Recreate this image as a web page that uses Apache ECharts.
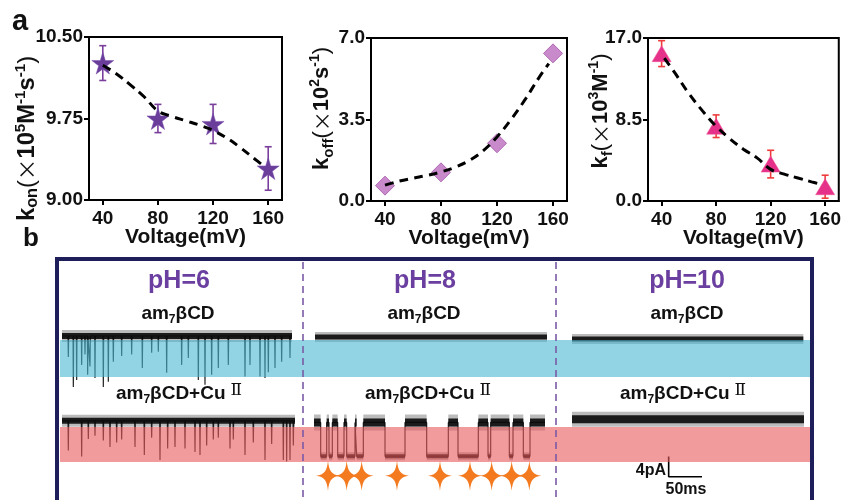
<!DOCTYPE html>
<html><head><meta charset="utf-8">
<script src="https://cdn.jsdelivr.net/npm/echarts@6/dist/echarts.min.js"></script>
<style>html,body{margin:0;padding:0;background:#fff}#c{width:844px;height:500px}</style>
</head><body><div id="c"></div><script>
// ---------- Panel a data ----------
const voltages = [40, 80, 120, 160];
const konVals = [10.26, 9.75, 9.70, 9.29];
const konErr = [0.16, 0.13, 0.18, 0.20];
const konFitX = [40, 50, 60, 70, 80, 90, 100, 110, 120, 130, 140, 150, 157];
const konFitY = [10.24, 10.16, 10.06, 9.95, 9.82, 9.77, 9.73, 9.69, 9.64, 9.57, 9.48, 9.38, 9.31];
const koffVals = [0.66, 1.23, 2.48, 6.34];
const koffErr = [0.12, 0.10, 0.12, 0.10];
const koffFitX = [40, 50, 60, 70, 80, 90, 100, 110, 120, 130, 140, 150, 157];
const koffFitY = [0.68, 0.85, 0.98, 1.10, 1.25, 1.45, 1.73, 2.15, 2.75, 3.50, 4.35, 5.30, 5.90];
const kfVals = [15.37, 7.80, 3.85, 1.49];
const kfErr = [1.35, 1.18, 1.44, 1.20];
const kfFitX = [42, 50, 60, 70, 80, 90, 100, 110, 120, 130, 140, 150, 158];
const kfFitY = [14.9, 13.3, 11.2, 9.4, 7.8, 6.5, 5.4, 4.5, 3.3, 2.8, 2.4, 2.0, 1.7];
const yTicksKon = [9.00, 10.50, 0.75];
const yTicksKoff = [0, 7, 3.5];
const yTicksKf = [0, 17, 8.5];

// ---------- Panel b data (time in ms, current in pA) ----------
const pH6BlankSpikes = [[9.5,4.0],[17,9.7],[22,8.4],[29.5,5.5],[34.5,3.5],[38.5,7.4],[42,5.8],[49.5,8.0],[62,9.7],[69.5,8.7],[77,4.9],[89.5,3.8],[104.5,3.5],[120.5,6.1],[134.5,3.2],[144.5,3.0],[157,7.0],[179.5,5.5],[189.5,4.2],[204.5,8.4],[214.5,9.3],[224.5,7.4],[234.5,6.1],[249.5,5.5],[274.5,7.7],[282,5.5],[297,7.7],[304.5,8.0],[309.5,6.9],[319.5,6.1],[329.5,4.9],[342,4.2]];
const pH6BlankEnd = 345;
const pH6CuSpikes = [[9.5,6.0],[29.5,7.2],[39.5,3.7],[49.5,3.0],[62,4.0],[72,5.3],[82,4.4],[89.5,3.8],[109.5,5.3],[123.5,6.9],[134.5,3.4],[147,7.9],[158.5,5.6],[169.5,5.3],[184.5,5.6],[199.5,6.3],[207,6.9],[217,5.0],[227,3.8],[234.5,3.4],[252,5.6],[257,3.8],[274.5,6.9],[287,4.4],[304.5,7.9],[314.5,4.7],[332,7.9],[337,8.2],[342,7.9],[347,5.0]];
const pH6CuEnd = 349.5;
const pH8BlankEnd = 348;
const pH8CuSwitchTimes = [0,10,19,22.5,27.5,35.5,45,49,61.5,64,74,106.5,136.5,169,201.5,216,246.5,261,265,293,298.5,314,324];
const pH8CuStates =      [1, 0, 1, 0,   1,   0,   1, 0, 1,   0, 1, 0,    1,    0,  1,    0,  1,    0,  1,  0,  1,    0,  1];
const pH8CuEnd = 346.5;
const blockedLevel = -7.0;
const starTimes = [21, 49, 71.5, 124.5, 189, 234, 266.5, 296.5, 323];
const pH10BlankEnd = 347;
const pH10CuEnd = 348;
const scaleBarTime = [145, 195];
const scaleBarCurrent = [-7.4, -11.4];

const FF = 'Arial, "Liberation Sans", Helvetica, sans-serif';
const CJK = '"Noto Sans CJK SC", "DejaVu Sans", sans-serif';
const chart = echarts.init(document.getElementById('c'));

// ---------- helpers ----------
function errBars(gi, vals, errs, color) {
  return {
    type: 'custom', xAxisIndex: gi, yAxisIndex: gi, z: 2, silent: true,
    data: voltages.map((v, i) => [v, vals[i] - errs[i], vals[i] + errs[i]]),
    renderItem: (p, api) => {
      const x = api.value(0);
      const lo = api.coord([x, api.value(1)]);
      const hi = api.coord([x, api.value(2)]);
      const s = {stroke: color, lineWidth: 1.6};
      return {type: 'group', children: [
        {type: 'line', shape: {x1: lo[0], y1: lo[1], x2: hi[0], y2: hi[1]}, style: s},
        {type: 'line', shape: {x1: lo[0]-3.5, y1: lo[1], x2: lo[0]+3.5, y2: lo[1]}, style: s},
        {type: 'line', shape: {x1: hi[0]-3.5, y1: hi[1], x2: hi[0]+3.5, y2: hi[1]}, style: s}
      ]};
    }
  };
}
function fitLine(gi, xs, ys) {
  return {type: 'line', xAxisIndex: gi, yAxisIndex: gi, z: 5, smooth: 0.4, symbol: 'none', silent: true,
    data: xs.map((x, i) => [x, ys[i]]),
    lineStyle: {color: '#000', width: 3, type: [9, 6]}};
}
function nameRich(s) {
  return {
    k: {fontSize: 22 * s, fontWeight: 'bold', fontFamily: FF, color: '#111', lineHeight: 28, verticalAlign: 'middle'},
    sub: {fontSize: 15 * s, fontWeight: 'bold', fontFamily: FF, color: '#111', lineHeight: 14, verticalAlign: 'bottom'},
    sup: {fontSize: 14 * s, fontWeight: 'bold', fontFamily: FF, color: '#111', lineHeight: 14, verticalAlign: 'top'},
    p: {fontSize: 22 * s, fontWeight: 'normal', fontFamily: FF, color: '#111', lineHeight: 28, verticalAlign: 'middle'},
    x: {fontSize: 20 * s, fontWeight: 'normal', fontFamily: CJK, color: '#111', lineHeight: 28, verticalAlign: 'middle'}
  };
}
function topX(gi) {
  return {gridIndex: gi, type: 'value', min: 30, max: 170,
    axisLine: {show: true, onZero: false, lineStyle: {color: '#000', width: 2}},
    axisTick: {show: true, customValues: voltages, length: 5, lineStyle: {color: '#000', width: 2}},
    axisLabel: {customValues: voltages, margin: 9, fontSize: 19, fontWeight: 'bold', color: '#111', fontFamily: FF},
    splitLine: {show: false},
    name: 'Voltage(mV)', nameLocation: 'middle', nameGap: 27, nameMoveOverlap: false,
    nameTextStyle: {fontSize: 21, fontWeight: 'bold', color: '#111', fontFamily: FF}};
}
function topY(gi, t, dec, name, gap, pad, s) {
  return {gridIndex: gi, type: 'value', min: t[0], max: t[1], interval: t[2],
    axisLine: {show: true, onZero: false, lineStyle: {color: '#000', width: 2}},
    axisTick: {show: true, length: 5, lineStyle: {color: '#000', width: 2}},
    axisLabel: {formatter: v => v.toFixed(dec), margin: 6, fontSize: 19, fontWeight: 'bold', color: '#111', fontFamily: FF},
    splitLine: {show: false},
    name: name, nameLocation: 'middle', nameRotate: 90, nameGap: gap, nameMoveOverlap: false,
    nameTextStyle: {rich: nameRich(s), padding: pad}};
}
function hidX(gi) { return {gridIndex: gi, type: 'value', min: 0, max: 360, show: false}; }
function hidY(gi) { return {gridIndex: gi, type: 'value', min: -16, max: 4, show: false}; }
function noise(gi, data, w) {
  return [
    {type: 'line', xAxisIndex: gi, yAxisIndex: gi, symbol: 'none', silent: true, z: 1, data: data,
      lineStyle: {color: 'rgba(30,30,30,0.3)', width: w, cap: 'butt'}},
    {type: 'line', xAxisIndex: gi, yAxisIndex: gi, symbol: 'none', silent: true, z: 2, data: data,
      lineStyle: {color: 'rgba(10,10,10,0.9)', width: Math.round(w * 0.5), cap: 'butt'}}
  ];
}
function thin(gi, data) {
  return {type: 'line', xAxisIndex: gi, yAxisIndex: gi, symbol: 'none', silent: true, z: 3, data: data,
    lineStyle: {color: 'rgba(10,10,10,0.9)', width: 1.2}};
}
function spikeData(spikes, end) {
  const pts = [[0, 0]];
  spikes.forEach(([t, d]) => { pts.push([t - 0.45, 0], [t, -d], [t + 0.45, 0]); });
  pts.push([end, 0]);
  return pts;
}
// pH8 + Cu step trace
const stepPath = [], highSegs = [], lowSegs = [];
pH8CuSwitchTimes.forEach((t0, i) => {
  const t1 = i + 1 < pH8CuSwitchTimes.length ? pH8CuSwitchTimes[i + 1] : pH8CuEnd;
  const lv = pH8CuStates[i] ? 0 : blockedLevel;
  stepPath.push([t0, lv], [t1, lv]);
  (pH8CuStates[i] ? highSegs : lowSegs).push([t0, lv], [t1, lv], [t1, '-']);
});

// grids for traces: [left, top(0 pA at top+21)]
const traceGrids = [[62, 315], [62, 401], [315, 316], [314, 403], [572, 318], [572, 399]];

const grids = [
  {left: 89, top: 37, width: 193, height: 163, show: true, borderColor: '#000', borderWidth: 2},
  {left: 371, top: 38, width: 196, height: 163, show: true, borderColor: '#000', borderWidth: 2},
  {left: 648, top: 38, width: 194, height: 163, show: true, borderColor: '#000', borderWidth: 2}
].concat(traceGrids.map(g => ({left: g[0], top: g[1], width: 240, height: 105})));

const xAxes = [topX(0), topX(1), topX(2)].concat([3,4,5,6,7,8].map(hidX));
const yAxes = [
  topY(0, yTicksKon, 2, '{k|k}{sub|on}{p|(}{x|×}{k|10}{sup|5}{k|M}{sup|-1}{k|s}{sup|-1}{p|)}', 48, [0, 40, 0, 0], 1.08),
  topY(1, yTicksKoff, 1, '{k|k}{sub|off}{p|(}{x|×}{k|10}{sup|2}{k|s}{sup|-1}{p|)}', 35, [0, 0, 0, 22], 1),
  topY(2, yTicksKf, 1, '{k|k}{sub|f}{p|(}{x|×}{k|10}{sup|3}{k|M}{sup|-1}{p|)}', 33, [0, 0, 0, 17], 1)
].concat([3,4,5,6,7,8].map(hidY));

const starPath = 'path://M50,0 L61,35 L98,35 L68,57 L79,91 L50,70 L21,91 L32,57 L2,35 L39,35 Z';
const sparkPath = 'path://M0,-14 C1,-4 3,-1 10,0 C3,1 1,4 0,14 C-1,4 -3,1 -10,0 C-3,-1 -1,-4 0,-14 Z';

const series = [
  errBars(0, konVals, konErr, '#7a3f9d'),
  {type: 'scatter', xAxisIndex: 0, yAxisIndex: 0, z: 4, symbol: starPath, symbolSize: 22,
    itemStyle: {color: '#6a3d9a', borderColor: '#7b4fb0', borderWidth: 0.5, opacity: 1},
    data: voltages.map((v, i) => [v, konVals[i]])},
  fitLine(0, konFitX, konFitY),
  errBars(1, koffVals, koffErr, '#a060a8'),
  {type: 'scatter', xAxisIndex: 1, yAxisIndex: 1, z: 4, symbol: 'diamond', symbolSize: [19, 19],
    itemStyle: {color: '#c98acb', borderColor: '#b06ab4', borderWidth: 1, opacity: 1},
    data: voltages.map((v, i) => [v, koffVals[i]])},
  fitLine(1, koffFitX, koffFitY),
  errBars(2, kfVals, kfErr, '#ee3b3b'),
  {type: 'scatter', xAxisIndex: 2, yAxisIndex: 2, z: 4, symbol: 'triangle', symbolSize: [19, 16],
    itemStyle: {color: '#e5318a', borderColor: '#f0508f', borderWidth: 0.5, opacity: 1},
    data: voltages.map((v, i) => [v, kfVals[i]])},
  fitLine(2, kfFitX, kfFitY),
  // pH 6
  ...noise(3, [[0, 0], [pH6BlankEnd, 0]], 12), thin(3, spikeData(pH6BlankSpikes, pH6BlankEnd)),
  ...noise(4, [[0, 0], [pH6CuEnd, 0]], 12), thin(4, spikeData(pH6CuSpikes, pH6CuEnd)),
  // pH 8
  ...noise(5, [[0, 0], [pH8BlankEnd, 0]], 10),
  ...noise(6, highSegs, 16), ...noise(6, lowSegs, 8), thin(6, stepPath),
  {type: 'scatter', xAxisIndex: 6, yAxisIndex: 6, z: 6, symbol: sparkPath, symbolSize: [24, 30], silent: true,
    itemStyle: {color: '#f47a20', opacity: 1}, data: starTimes.map(t => [t, -11.0])},
  // pH 10
  ...noise(7, [[0, 0], [pH10BlankEnd, 0]], 10),
  ...noise(8, [[0, 0], [pH10CuEnd, 0]], 15),
  {type: 'line', xAxisIndex: 8, yAxisIndex: 8, z: 6, symbol: 'none', silent: true,
    data: [[scaleBarTime[0], scaleBarCurrent[0]], [scaleBarTime[0], scaleBarCurrent[1]], [scaleBarTime[1], scaleBarCurrent[1]]],
    lineStyle: {color: '#000', width: 1.6}}
];

const subRich = {
  a: {fontSize: 19, fontWeight: 'bold', fontFamily: FF, color: '#111', lineHeight: 24, verticalAlign: 'middle'},
  s: {fontSize: 12, fontWeight: 'bold', fontFamily: FF, color: '#111', lineHeight: 12, verticalAlign: 'bottom'},
  r: {fontSize: 17, fontWeight: 'normal', fontFamily: '"DejaVu Serif", "Noto Sans CJK SC", serif', color: '#111', lineHeight: 14, verticalAlign: 'top', padding: [0, 0, 0, 5]}
};
function txt(x, y, text, extra) {
  return Object.assign({type: 'text', x: x, y: y, z: 30, silent: true,
    style: Object.assign({text: text, align: 'center', verticalAlign: 'middle', fill: '#111', fontFamily: FF}, extra)});
}
const blank = '{a|am}{s|7}{a|βCD}';
const withCu = '{a|am}{s|7}{a|βCD+Cu}{r|Ⅱ}';
const phStyle = {fontSize: 25, fontWeight: 'bold', fill: '#6b3fa0'};
const graphic = [
  {type: 'rect', z: 10, silent: true, shape: {x: 60, y: 340, width: 750, height: 37}, style: {fill: 'rgba(73,183,210,0.6)'}},
  {type: 'rect', z: 10, silent: true, shape: {x: 60, y: 427, width: 750, height: 35}, style: {fill: 'rgba(233,88,92,0.6)'}},
  {type: 'line', z: 11, silent: true, shape: {x1: 303, y1: 262, x2: 303, y2: 500}, style: {stroke: '#7a5aa6', lineWidth: 1.6, lineDash: [7, 5]}},
  {type: 'line', z: 11, silent: true, shape: {x1: 556, y1: 262, x2: 556, y2: 500}, style: {stroke: '#7a5aa6', lineWidth: 1.6, lineDash: [7, 5]}},
  {type: 'rect', z: 20, silent: true, shape: {x: 57, y: 259, width: 755, height: 260}, style: {fill: 'none', stroke: '#1e1e5a', lineWidth: 4}},
  txt(20, 22, 'a', {fontSize: 29, fontWeight: 'bold'}),
  txt(31, 239, 'b', {fontSize: 26, fontWeight: 'bold'}),
  txt(179, 281, 'pH=6', phStyle), txt(425, 281, 'pH=8', phStyle), txt(687, 281, 'pH=10', phStyle),
  txt(178, 314, blank, {rich: subRich}), txt(424, 314, blank, {rich: subRich}), txt(687, 314, blank, {rich: subRich}),
  txt(179, 394, withCu, {rich: subRich}), txt(428, 394, withCu, {rich: subRich}), txt(683, 394, withCu, {rich: subRich}),
  txt(666, 471, '4pA', {fontSize: 16, fontWeight: 'bold', align: 'right'}),
  txt(686, 490, '50ms', {fontSize: 16, fontWeight: 'bold'})
];

chart.setOption({
  animation: false, backgroundColor: '#fff',
  grid: grids, xAxis: xAxes, yAxis: yAxes, series: series, graphic: graphic
});
</script></body></html>
